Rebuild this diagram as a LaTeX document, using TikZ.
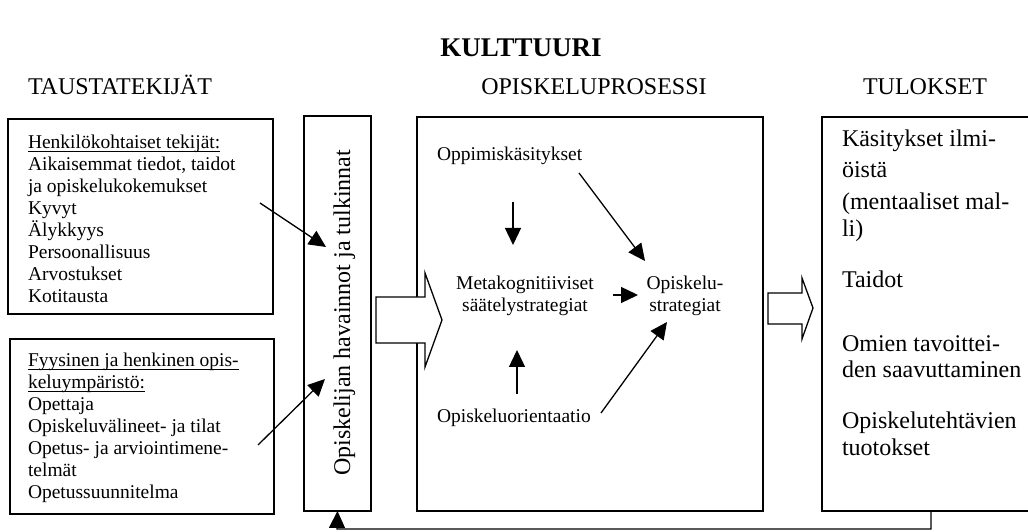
\documentclass[tikz,border=0pt]{standalone}
\usepackage{fontspec}
\setmainfont{Liberation Serif}
\usetikzlibrary{arrows.meta}
\newcommand\fbody{\fontsize{19.5}{22}\selectfont}
\newcommand\fhead{\fontsize{24}{27}\selectfont}
\newcommand\ftitle{\fontsize{27}{30}\selectfont\bfseries}
\newcommand\myul[1]{\leavevmode\setbox0\hbox{#1}\rlap{\rule[-3pt]{\wd0}{1pt}}\box0}
\begin{document}
\begin{tikzpicture}[x=1pt,y=1pt,
  line width=1.3pt,
  boxnode/.style={draw, line width=1.3pt, inner sep=0pt, outer sep=0pt, anchor=north west},
  txt/.style={inner sep=0pt, outer sep=0pt},
  arr/.style={-{Triangle[length=17pt,width=16pt]}, line width=1.3pt},
  blockarr/.style={draw, fill=white, line width=1.3pt, line join=miter}
]
\clip (0,0) rectangle (1028,532);
\fill[white] (0,0) rectangle (1028,532);

% title and headers
\node[txt, anchor=base, font=\ftitle] (title) at (521,475) {KULTTUURI};
\node[txt, anchor=base west, font=\fhead] (h1) at (28,437) {TAUSTATEKIJÄT};
\node[txt, anchor=base, font=\fhead] (h2) at (594,437) {OPISKELUPROSESSI};
\node[txt, anchor=base, font=\fhead] (h3) at (925,437) {TULOKSET};

% boxes
\node[boxnode, minimum width=265pt, minimum height=195pt] (b1) at (8,413) {};
\node[boxnode, minimum width=264pt, minimum height=175pt] (b2) at (10,193) {};
\node[boxnode, minimum width=67pt, minimum height=395pt] (vb) at (304,416) {};
\node[boxnode, minimum width=346pt, minimum height=394pt] (mb) at (417,415) {};
\node[boxnode, minimum width=240pt, minimum height=394pt] (rb) at (822,415) {};

% box 1 text
\node[txt, anchor=base west] (t1) at (28,383) {\parbox[t]{240pt}{\fbody\myul{Henkilökohtaiset tekijät:}\\Aikaisemmat tiedot, taidot\\ja opiskelukokemukset\\Kyvyt\\Älykkyys\\Persoonallisuus\\Arvostukset\\Kotitausta}};
% box 2 text
\node[txt, anchor=base west] (t2) at (28,165) {\parbox[t]{240pt}{\fbody\myul{Fyysinen ja henkinen opis-}\\\myul{keluympäristö:}\\Opettaja\\Opiskeluvälineet- ja tilat\\Opetus- ja arviointimene-\\telmät\\Opetussuunnitelma}};

% vertical text
\node[txt, anchor=base, rotate=90, font=\fhead] (vt) at (350,219) {Opiskelijan havainnot ja tulkinnat};

% middle texts
\node[txt, anchor=base west, font=\fbody] (m1) at (437,371) {Oppimiskäsitykset};
\node[txt, anchor=base] (m2) at (525,242) {\parbox[t]{200pt}{\centering\fbody Metakognitiiviset\\säätelystrategiat}};
\node[txt, anchor=base] (m3) at (685,242) {\parbox[t]{120pt}{\centering\fbody Opiskelu-\\strategiat}};
\node[txt, anchor=base west, font=\fbody] (m4) at (437,109) {Opiskeluorientaatio};

% right texts
\node[txt, anchor=base west, font=\fhead] (r1) at (842,385) {Käsitykset ilmi-};
\node[txt, anchor=base west, font=\fhead] (r2) at (842,354) {öistä};
\node[txt, anchor=base west, font=\fhead] (r3) at (842,322) {(mentaaliset mal-};
\node[txt, anchor=base west, font=\fhead] (r4) at (842,295) {li)};
\node[txt, anchor=base west, font=\fhead] (r5) at (842,244) {Taidot};
\node[txt, anchor=base west, font=\fhead] (r6) at (842,180) {Omien tavoittei-};
\node[txt, anchor=base west, font=\fhead] (r7) at (842,154) {den saavuttaminen};
\node[txt, anchor=base west, font=\fhead] (r8) at (842,103) {Opiskelutehtävien};
\node[txt, anchor=base west, font=\fhead] (r9) at (842,76) {tuotokset};

% block arrows
\draw[blockarr] (376,235) -- (425,235) -- (425,259) -- (442,212) -- (425,165) -- (425,189) -- (376,189) -- cycle;
\draw[blockarr] (768,239) -- (802,239) -- (802,254) -- (813,224) -- (802,193) -- (802,208) -- (768,208) -- cycle;

% connector coordinates
\coordinate (a1s) at (260,329); \coordinate (a1e) at (326,285);
\coordinate (a2s) at (258,87);  \coordinate (a2e) at (325,153);
\coordinate (dns) at (513,330); \coordinate (dne) at (513,287);
\coordinate (ups) at (517,138); \coordinate (upe) at (517,182);
\coordinate (rts) at (613,237); \coordinate (rte) at (638,237);
\coordinate (d1s) at (579,359); \coordinate (d1e) at (645,271);
\coordinate (d2s) at (601,119); \coordinate (d2e) at (667,210);
\coordinate (fb1) at (931,3);
\coordinate (fb2) at (337,3);

\draw[arr] (a1s) -- (a1e);
\draw[arr] (a2s) -- (a2e);
\draw[arr] (dns) -- (dne);
\draw[arr] (ups) -- (upe);
\draw[arr] (rts) -- (rte);
\draw[arr] (d1s) -- (d1e);
\draw[arr] (d2s) -- (d2e);
\draw[arr] (rb.south west -| fb1) -- (fb1) -- (fb2) -- (vb.south);
\end{tikzpicture}
\end{document}
